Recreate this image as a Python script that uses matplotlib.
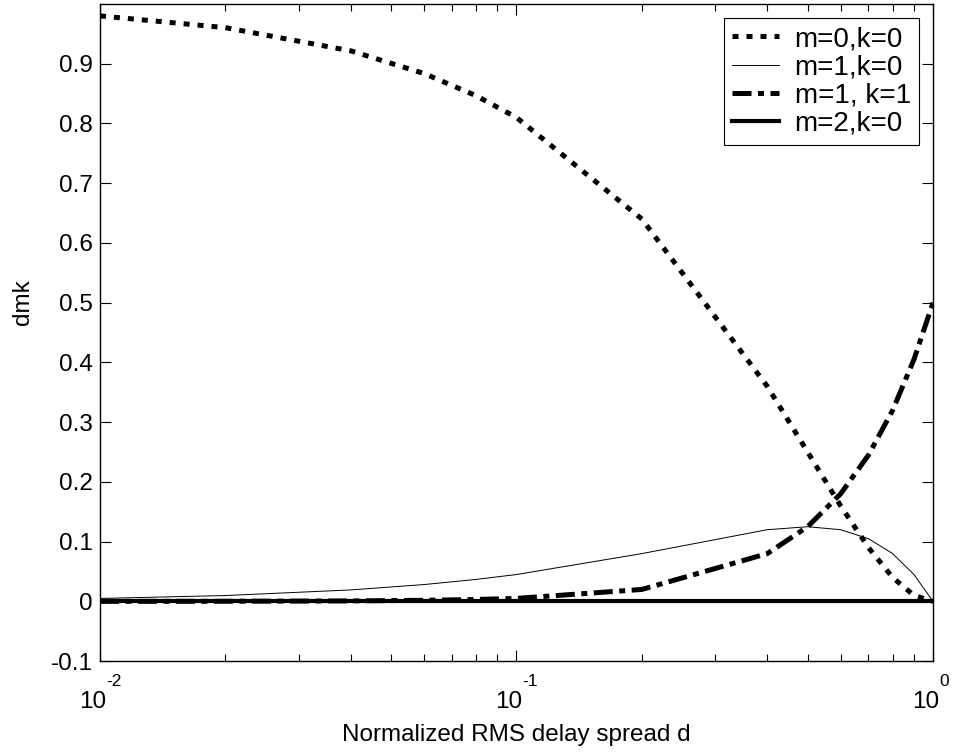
import matplotlib
matplotlib.use("Agg")
import matplotlib.pyplot as plt
import matplotlib.transforms as mtransforms
from matplotlib.ticker import LogLocator, NullFormatter

plt.rcParams['font.family'] = ['Liberation Sans', 'DejaVu Sans']

# normalized RMS delay spread
d = [0.01, 0.02, 0.04, 0.06, 0.08, 0.1, 0.2, 0.4, 0.5, 0.6, 0.7, 0.8, 0.9, 1.0]

# coefficients dmk
d00 = [0.9801, 0.9604, 0.9216, 0.8836, 0.8464, 0.81, 0.64, 0.36, 0.25, 0.16, 0.09, 0.04, 0.01, 0.0]
d10 = [0.00495, 0.0098, 0.0192, 0.0282, 0.0368, 0.045, 0.08, 0.12, 0.125, 0.12, 0.105, 0.08, 0.045, 0.0]
d11 = [0.00005, 0.0002, 0.0008, 0.0018, 0.0032, 0.005, 0.02, 0.08, 0.125, 0.18, 0.245, 0.32, 0.405, 0.5]
d20 = [0.0] * 14

xdec = [0.01, 0.1, 1.0]
xexp = ['-2', '-1', '0']

fs = 17.5

fig = plt.figure(figsize=(9.54, 7.53), dpi=100)
ax = fig.add_axes([0.1048, 0.122, 0.8732, 0.8727])

ax.plot(d, d00, color='k', lw=3.6, ls=(0, (1.2, 1.6)), dash_capstyle='butt', label='m=0,k=0')
ax.plot(d, d10, color='k', lw=0.7, ls='-', label='m=1,k=0')
ax.plot(d, d11, color='k', lw=3.6, ls=(0, (3.8, 1.3, 1.2, 1.3)), dash_capstyle='butt', label='m=1, k=1')
ax.plot(d, d20, color='k', lw=3.0, ls='-', label='m=2,k=0')

ax.set_xscale('log')
ax.set_xlim(0.01, 1)
ax.set_ylim(-0.1, 1.0)
ax.set_yticks([-0.1, 0, 0.1, 0.2, 0.3, 0.4, 0.5, 0.6, 0.7, 0.8, 0.9])
ax.set_yticklabels(['-0.1', '0', '0.1', '0.2', '0.3', '0.4', '0.5', '0.6', '0.7', '0.8', '0.9'])
ax.xaxis.set_major_locator(LogLocator(base=10, numticks=10))
ax.xaxis.set_minor_locator(LogLocator(base=10, subs=range(2, 10), numticks=10))
ax.xaxis.set_major_formatter(NullFormatter())
ax.xaxis.set_minor_formatter(NullFormatter())

ax.tick_params(which='both', direction='in', top=True, right=True, labelsize=fs, width=0.8)
ax.tick_params(which='major', length=8, pad=5)
ax.tick_params(which='minor', length=5)
for s in ax.spines.values():
    s.set_linewidth(1.0)

# decade labels written as 10 with a raised exponent
trans = mtransforms.blended_transform_factory(ax.transData, ax.transAxes)
for xv, ex in zip(xdec, xexp):
    base = mtransforms.offset_copy(trans, fig=fig, x=6, y=-30, units='dots')
    ax.text(xv, 0, '10', transform=base, ha='right', va='top', fontsize=fs)
    sup = mtransforms.offset_copy(trans, fig=fig, x=6, y=-13, units='dots')
    ax.text(xv, 0, ex, transform=sup, ha='left', va='top', fontsize=12.5)

ax.set_xlabel('Normalized RMS delay spread d', fontsize=fs)
ax.xaxis.set_label_coords(0.5, -0.095)
ax.set_ylabel('dmk', fontsize=fs)
ax.yaxis.set_label_coords(-0.079, 0.546)

leg = ax.legend(loc='upper right', fontsize=20, fancybox=False, framealpha=1,
                edgecolor='k', handlelength=1.7, handletextpad=0.55, borderpad=0.3,
                labelspacing=0.08, borderaxespad=0.5)
leg.get_frame().set_linewidth(0.8)

fig.savefig('out.png', dpi=100)
